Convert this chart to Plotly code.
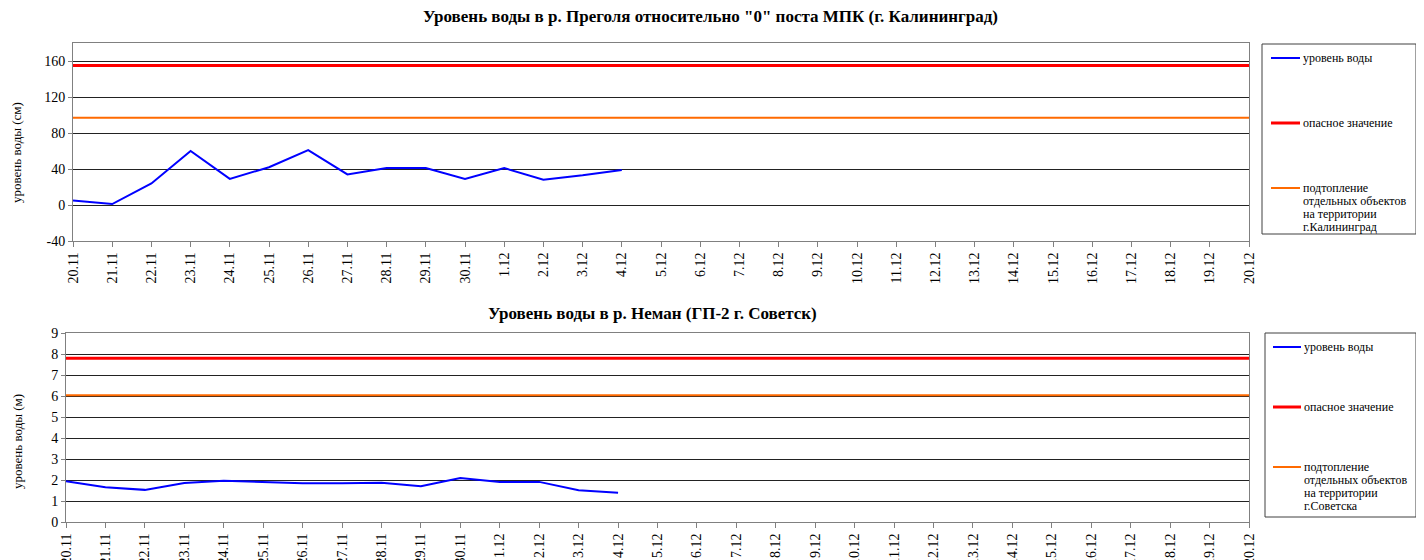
import plotly.graph_objects as go

# browser body margin is 8px, so the figure is drawn 8px in from the top-left corner
OFF = 8
W, H = 1424 - OFF, 560 - OFF

dates = ["20.11", "21.11", "22.11", "23.11", "24.11", "25.11", "26.11", "27.11", "28.11", "29.11",
         "30.11", "1.12", "2.12", "3.12", "4.12", "5.12", "6.12", "7.12", "8.12", "9.12", "10.12",
         "11.12", "12.12", "13.12", "14.12", "15.12", "16.12", "17.12", "18.12", "19.12", "20.12"]

# Pregolya (Kaliningrad), cm
pregolya_dates = dates[:15]
pregolya_level = [5, 1, 24, 60, 29, 42, 61, 34, 41, 41, 29, 41, 28, 33, 39]
pregolya_danger = 155
pregolya_flood = 97
pregolya_ticks = [-40, 0, 40, 80, 120, 160]
pregolya_ticktext = ["-40", "0", "40", "80", "120", "160"]

# Neman (Sovetsk), m
neman_dates = dates[:15]
neman_level = [1.94, 1.66, 1.53, 1.86, 1.97, 1.89, 1.84, 1.85, 1.87, 1.70, 2.10, 1.91, 1.91, 1.51, 1.39]
neman_danger = 7.8
neman_flood = 6.03
neman_ticks = [0, 1, 2, 3, 4, 5, 6, 7, 8, 9]

titles = ['Уровень воды в р. Преголя относительно "0" поста МПК (г. Калининград)',
          'Уровень воды в р. Неман (ГП-2 г. Советск)']
ytitles = ["уровень воды (см)", "уровень воды (м)"]
legend_names = ["уровень воды", "опасное значение"]
flood_names = [["подтопление", "отдельных объектов", "на территории", "г.Калининград"],
               ["подтопление", "отдельных объектов", "на территории", "г.Советска"]]

BLUE, RED, ORANGE = "#0000FF", "#FF0000", "#FF6A00"
FONT = "Liberation Serif"


def px(x):
    return (x - OFF) / W


def py(y):
    return 1 - (y - OFF) / H


fig = go.Figure()

# top chart
fig.add_trace(go.Scatter(x=pregolya_dates, y=pregolya_level, mode="lines",
                         line=dict(color=BLUE, width=2), xaxis="x", yaxis="y", showlegend=False))
fig.add_trace(go.Scatter(x=[dates[0], dates[-1]], y=[pregolya_danger] * 2, mode="lines",
                         line=dict(color=RED, width=3), xaxis="x", yaxis="y", showlegend=False))
fig.add_trace(go.Scatter(x=[dates[0], dates[-1]], y=[pregolya_flood] * 2, mode="lines",
                         line=dict(color=ORANGE, width=2), xaxis="x", yaxis="y", showlegend=False))
# bottom chart
fig.add_trace(go.Scatter(x=neman_dates, y=neman_level, mode="lines",
                         line=dict(color=BLUE, width=2), xaxis="x2", yaxis="y2", showlegend=False))
fig.add_trace(go.Scatter(x=[dates[0], dates[-1]], y=[neman_danger] * 2, mode="lines",
                         line=dict(color=RED, width=3), xaxis="x2", yaxis="y2", showlegend=False))
fig.add_trace(go.Scatter(x=[dates[0], dates[-1]], y=[neman_flood] * 2, mode="lines",
                         line=dict(color=ORANGE, width=2), xaxis="x2", yaxis="y2", showlegend=False))

xcommon = dict(type="category", categoryorder="array", categoryarray=dates, range=[0, len(dates) - 1],
               tickangle=-90, ticks="outside", ticklen=5, tickcolor="#808080", automargin=False,
               showgrid=False, showline=True, linecolor="#808080", linewidth=1, mirror=True,
               tickfont=dict(family=FONT, size=14, color="#000"), zeroline=False)
ycommon = dict(ticks="outside", ticklen=4, tickcolor="#808080", showline=True, linecolor="#808080",
               linewidth=1, mirror=True, showgrid=True, gridcolor="#222222", gridwidth=1, automargin=False,
               zeroline=False, tickfont=dict(family=FONT, size=14, color="#000"))

fig.update_layout(
    width=W, height=H, autosize=False,
    margin=dict(l=0, r=0, t=0, b=0, pad=0),
    paper_bgcolor="white", plot_bgcolor="white",
    showlegend=False,
    xaxis=dict(domain=[px(73), px(1249)], anchor="y", **xcommon),
    yaxis=dict(domain=[py(241), py(43)], anchor="x", range=[-40, 180],
               tickmode="array", tickvals=pregolya_ticks, ticktext=pregolya_ticktext, **ycommon),
    xaxis2=dict(domain=[px(66), px(1249)], anchor="y2", **xcommon),
    yaxis2=dict(domain=[py(522), py(333)], anchor="x2", range=[0, 9],
                tickmode="array", tickvals=neman_ticks, ticktext=[str(v) for v in neman_ticks], **ycommon),
)

ann = []
shapes = []
# titles
ann.append(dict(text="<b>" + titles[0] + "</b>", x=px(710), y=py(17), xref="paper", yref="paper",
                showarrow=False, xanchor="center", yanchor="middle",
                font=dict(family=FONT, size=17, color="#000")))
ann.append(dict(text="<b>" + titles[1] + "</b>", x=px(652), y=py(313), xref="paper", yref="paper",
                showarrow=False, xanchor="center", yanchor="middle",
                font=dict(family=FONT, size=17, color="#000")))
# y titles
for yt, yc in zip(ytitles, [153, 442]):
    ann.append(dict(text=yt, x=px(17), y=py(yc), xref="paper", yref="paper", showarrow=False,
                    textangle=-90, xanchor="center", yanchor="middle",
                    font=dict(family=FONT, size=13, color="#000")))

# legend boxes
legends = [
    dict(box=(1262, 44, 1416, 234), lx=(1271, 1300), ys=(58, 123, 188), flood=flood_names[0]),
    dict(box=(1265, 333, 1416, 517), lx=(1273, 1301), ys=(347, 407, 467), flood=flood_names[1]),
]
for lg in legends:
    x0, y0, x1, y1 = lg["box"]
    shapes.append(dict(type="rect", xref="paper", yref="paper", x0=px(x0), x1=px(x1), y0=py(y1), y1=py(y0),
                       line=dict(color="#404040", width=1), fillcolor="rgba(0,0,0,0)"))
    cols = [BLUE, RED, ORANGE]
    widths = [2, 3, 2]
    for i, (c, wd, yy) in enumerate(zip(cols, widths, lg["ys"])):
        shapes.append(dict(type="line", xref="paper", yref="paper", x0=px(lg["lx"][0]), x1=px(lg["lx"][1]),
                           y0=py(yy), y1=py(yy), line=dict(color=c, width=wd)))
        if i < 2:
            lines = [legend_names[i]]
        else:
            lines = lg["flood"]
        for k, t in enumerate(lines):
            ann.append(dict(text=t, x=px(lg["lx"][1] + 1), y=py(yy + 13 * k), xref="paper", yref="paper",
                            showarrow=False, xanchor="left", yanchor="middle", align="left",
                            font=dict(family=FONT, size=12, color="#000")))

fig.update_layout(annotations=ann, shapes=shapes)
fig.write_html("out.html")
